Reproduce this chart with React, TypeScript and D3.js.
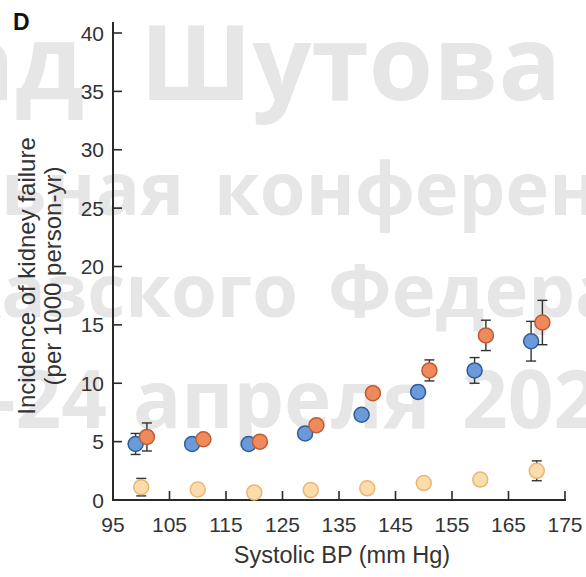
import React from "react";
import * as d3 from "d3";

const W = 586;
const H = 577;

// x positions (mm Hg bins) - series are dodged slightly
const bins = [100, 110, 120, 130, 140, 150, 160, 170];
const xTicks = [95, 105, 115, 125, 135, 145, 155, 165, 175];
const yTicks = [0, 5, 10, 15, 20, 25, 30, 35, 40];

// incidence per 1000 person-yr, with +/- error
const blueVals = [4.8, 4.8, 4.8, 5.7, 7.3, 9.25, 11.1, 13.6];
const blueErr = [0.9, 0.4, 0.3, 0.3, 0.3, 0.5, 1.1, 1.7];
const orangeVals = [5.4, 5.2, 5.0, 6.4, 9.15, 11.1, 14.1, 15.2];
const orangeErr = [1.2, 0.4, 0.3, 0.3, 0.4, 0.9, 1.3, 1.9];
const paleVals = [1.1, 0.9, 0.65, 0.85, 1.0, 1.45, 1.75, 2.5];
const paleErr = [0.75, 0.3, 0.3, 0.3, 0.3, 0.3, 0.4, 0.85];

const series = [
  { vals: paleVals, err: paleErr, dx: 0, fill: "#fcdcaa", stroke: "#e9b676" },
  { vals: blueVals, err: blueErr, dx: -1, fill: "#6a9bd8", stroke: "#2e5c9c" },
  { vals: orangeVals, err: orangeErr, dx: 1, fill: "#ee8a5c", stroke: "#bf5a31" },
];

// background watermark fragments
const watermark = [
  { text: "ад", x: 84, y: 100, size: 104, anchor: "end" },
  { text: "Шутова", x: 140, y: 100, size: 104, anchor: "start" },
  { text: "ьная", x: 184, y: 215, size: 74, anchor: "end" },
  { text: "конференции", x: 214, y: 215, size: 74, anchor: "start" },
  { text: "казского", x: 298, y: 317, size: 74, anchor: "end" },
  { text: "Федерального", x: 328, y: 317, size: 74, anchor: "start" },
  { text: "-24", x: 107, y: 428, size: 80, anchor: "end" },
  { text: "апреля", x: 133, y: 428, size: 80, anchor: "start" },
  { text: "2024", x: 462, y: 428, size: 80, anchor: "start" },
];

const x = d3.scaleLinear().domain([95, 175]).range([113, 565]);
const y = d3.scaleLinear().domain([0, 40]).range([500, 33]);

const font = "Liberation Sans, Arial, sans-serif";
const ink = "#2a2a2a";

export default function App() {
  return (
    <svg width={W} height={H} style={{ position: "absolute", left: 0, top: 0, background: "#fff" }}>
      <g fontFamily="Open Sans" fontWeight={700} fill="#e6e6e6">
        {watermark.map((w, i) => (
          <text key={i} x={w.x} y={w.y} fontSize={w.size} textAnchor={w.anchor}>
            {w.text}
          </text>
        ))}
      </g>

      <text x={13} y={30} fontFamily={font} fontWeight={700} fontSize={23} fill="#111">
        D
      </text>

      {/* axes */}
      <line x1={x(95)} x2={x(95)} y1={y(0) + 1} y2={22} stroke={ink} strokeWidth={2} />
      <line x1={x(95) - 1} x2={x(175) + 1} y1={y(0)} y2={y(0)} stroke={ink} strokeWidth={2} />
      {yTicks.map((t) => (
        <g key={"y" + t}>
          <line x1={x(95)} x2={x(95) + 9} y1={y(t)} y2={y(t)} stroke={ink} strokeWidth={1.6} />
          <text x={104} y={y(t)} dy="0.36em" textAnchor="end" fontFamily={font} fontSize={21} fill="#333">
            {t}
          </text>
        </g>
      ))}
      {xTicks.map((t) => (
        <g key={"x" + t}>
          <line x1={x(t)} x2={x(t)} y1={y(0)} y2={y(0) - 9} stroke={ink} strokeWidth={1.6} />
          <text x={x(t)} y={532} textAnchor="middle" fontFamily={font} fontSize={21} fill="#333">
            {t}
          </text>
        </g>
      ))}

      <text x={342} y={563} textAnchor="middle" fontFamily={font} fontSize={23.5} fill="#333">
        Systolic BP (mm Hg)
      </text>
      <g transform="translate(35,276) rotate(-90)">
        <text textAnchor="middle" fontFamily={font} fontSize={24} fill="#333">
          Incidence of kidney failure
        </text>
        <text y={26} textAnchor="middle" fontFamily={font} fontSize={24} fill="#333">
          (per 1000 person-yr)
        </text>
      </g>

      {/* points with error bars */}
      {series.map((s, si) => (
        <g key={si}>
          {bins.map((b, i) => {
            const cx = x(b + s.dx);
            const hi = y(s.vals[i] + s.err[i]);
            const lo = y(s.vals[i] - s.err[i]);
            return (
              <g key={i}>
                <line x1={cx} x2={cx} y1={hi} y2={lo} stroke="#333" strokeWidth={1.4} />
                <line x1={cx - 5} x2={cx + 5} y1={hi} y2={hi} stroke="#333" strokeWidth={1.4} />
                <line x1={cx - 5} x2={cx + 5} y1={lo} y2={lo} stroke="#333" strokeWidth={1.4} />
                <circle cx={cx} cy={y(s.vals[i])} r={7.5} fill={s.fill} stroke={s.stroke} strokeWidth={1.5} />
              </g>
            );
          })}
        </g>
      ))}
    </svg>
  );
}
